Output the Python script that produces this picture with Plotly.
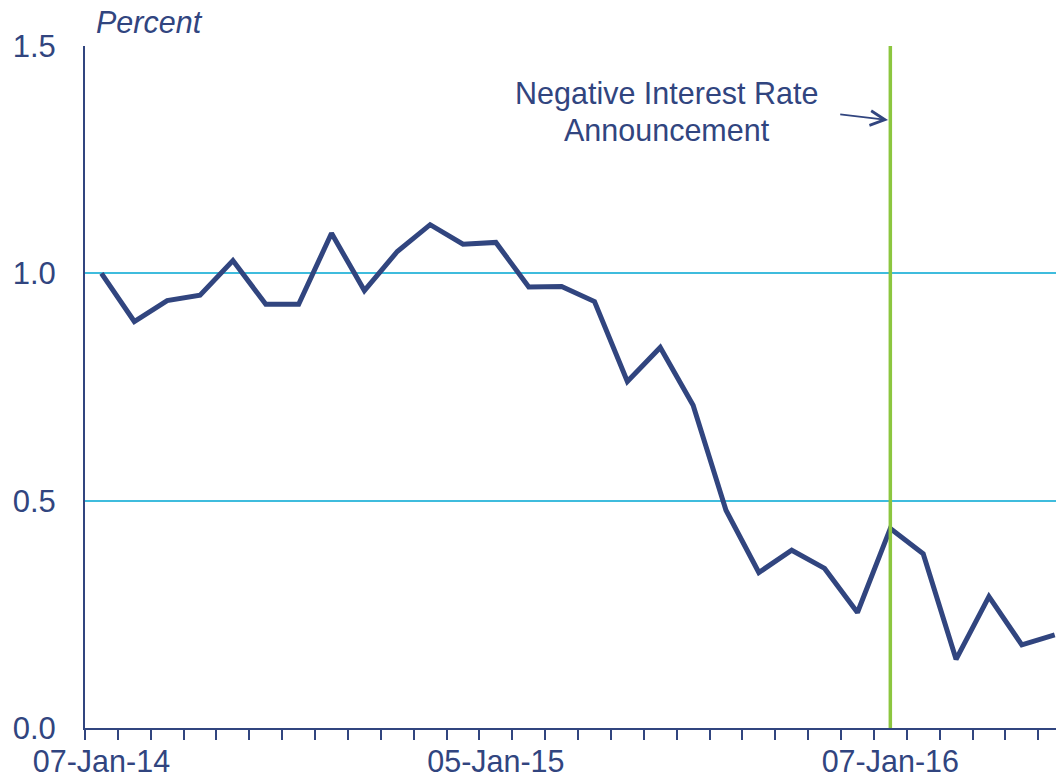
import plotly.graph_objects as go

# ---- data ----
values = [1.00, 0.894, 0.940, 0.952, 1.028, 0.932, 0.932, 1.088, 0.962, 1.048,
          1.107, 1.064, 1.068, 0.970, 0.971, 0.938, 0.762, 0.837, 0.710, 0.479,
          0.342, 0.391, 0.351, 0.254, 0.439, 0.383, 0.151, 0.289, 0.183, 0.205]
idx = list(range(len(values)))
tick_index = [0, 12, 24]
tick_labels = ["07-Jan-14", "05-Jan-15", "07-Jan-16"]
y_ticks = [0.0, 0.5, 1.0, 1.5]
announcement_index = 24
annotation_lines = ["Negative Interest Rate", "Announcement"]

NAVY = "#31457F"
CYAN = "#3FBCDD"
GREEN = "#8CC63F"
FONT = "Liberation Sans, Arial, sans-serif"

fig = go.Figure()
fig.add_trace(go.Scatter(x=idx, y=values, mode="lines",
                         line=dict(color=NAVY, width=5), showlegend=False,
                         hoverinfo="skip"))

fig.add_shape(type="line", xref="x", yref="paper",
              x0=announcement_index, x1=announcement_index, y0=0, y1=1,
              line=dict(color=GREEN, width=3.5), layer="above")

fig.update_layout(
    width=1056, height=778,
    margin=dict(l=85, r=0, t=46, b=50),
    paper_bgcolor="white", plot_bgcolor="white",
    font=dict(family=FONT, size=30, color=NAVY),
    showlegend=False,
    xaxis=dict(
        range=[-0.5, 29.04], automargin=False,
        tickmode="array", tickvals=tick_index, ticktext=tick_labels,
        ticks="", ticklabelstandoff=5,
        showgrid=False, zeroline=False,
        showline=True, linecolor=NAVY, linewidth=2,
        minor=dict(tickmode="array",
                   tickvals=[i - 0.5 for i in range(len(values) + 1)],
                   ticks="outside", ticklen=10, tickwidth=1.5, tickcolor=NAVY,
                   showgrid=False),
        tickfont=dict(size=30.5, color=NAVY, family=FONT),
    ),
    yaxis=dict(
        range=[0, 1.5], automargin=False,
        tickmode="array", tickvals=y_ticks, tickformat=".1f",
        ticks="", ticklabelstandoff=21,
        showgrid=True, gridcolor=CYAN, gridwidth=1.5,
        zeroline=False,
        showline=True, linecolor=NAVY, linewidth=2,
        tickfont=dict(size=31, color=NAVY, family=FONT),
    ),
)

# axis title "Percent"
fig.add_annotation(text="<i>Percent</i>", xref="paper", yref="paper",
                   x=0, y=1, xanchor="left", yanchor="bottom",
                   xshift=9, yshift=5, showarrow=False,
                   font=dict(size=30.5, color=NAVY, family=FONT))

# annotation text (two lines)
fig.add_annotation(text=annotation_lines[0], xref="x", yref="y",
                   x=17.2, y=1.395, xanchor="center", yanchor="middle",
                   showarrow=False, font=dict(size=30.5, color=NAVY, family=FONT))
fig.add_annotation(text=annotation_lines[1], xref="x", yref="y",
                   x=17.2, y=1.315, xanchor="center", yanchor="middle",
                   showarrow=False, font=dict(size=30.5, color=NAVY, family=FONT))

# arrow
fig.add_annotation(text="", xref="x", yref="y", axref="x", ayref="y",
                   x=announcement_index - 0.07, y=1.337,
                   ax=22.43, ay=1.350,
                   showarrow=True, arrowhead=5, arrowsize=1.6, arrowwidth=1.8,
                   arrowcolor=NAVY, standoff=0)

# remove the page's default 8px body margin so the figure fills the window
fig.write_html("out.html", config={"displayModeBar": False},
               post_script="document.body.style.margin='0';")
